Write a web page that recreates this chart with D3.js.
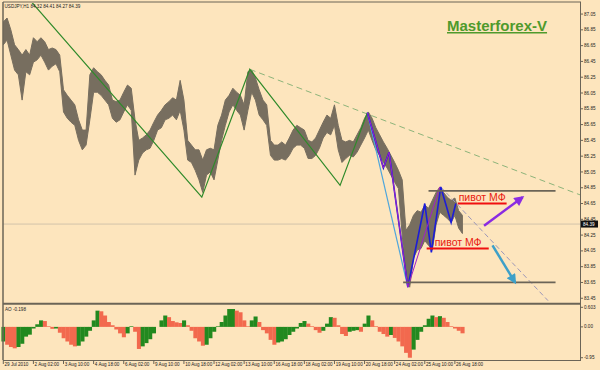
<!DOCTYPE html>
<html>
<head>
<meta charset="utf-8">
<script src="https://cdnjs.cloudflare.com/ajax/libs/d3/7.8.5/d3.min.js"></script>
<style>
  body { margin: 0; background: #fde5bd; }
  svg { display: block; font-family: "Liberation Sans", Arial, sans-serif; }
</style>
</head>
<body>
<svg id="chart" width="600" height="370"></svg>
<script>
// USDJPY H1, 29 Jul - 26 Aug 2010, one sample every 4 bars
const barStep = 4;
const totalBars = 613;

const timeLabels = ["29 Jul 2010", "2 Aug 02:00", "3 Aug 10:00", "4 Aug 18:00", "6 Aug 02:00",
   "9 Aug 10:00", "10 Aug 18:00", "12 Aug 02:00", "13 Aug 10:00", "16 Aug 18:00",
   "18 Aug 02:00", "19 Aug 10:00", "20 Aug 18:00", "24 Aug 02:00", "25 Aug 10:00", "26 Aug 18:00"];
const barsPerLabel = 32;

const priceTicks = [87.05, 86.85, 86.65, 86.45, 86.25, 86.05, 85.85, 85.65, 85.45, 85.25,
   85.05, 84.85, 84.65, 84.45, 84.25, 84.05, 83.85, 83.65, 83.45];
const aoTicks = [0.603, 0.00, -0.95];
const aoTickText = ["0.603", "0.00", "-0.95"];

const highs = [86.95, 87.00, 86.85, 86.66, 86.60, 86.53, 86.60, 86.53, 86.75, 86.70,
   86.75, 86.70, 86.60, 86.62, 86.60, 86.53, 86.09, 86.02, 85.96, 85.90,
   85.71, 85.58, 85.58, 86.28, 86.37, 86.32, 86.28, 86.21, 86.15, 85.96,
   85.94, 85.96, 86.06, 86.15, 86.11, 85.71, 85.45, 85.48, 85.52, 85.58,
   85.68, 85.77, 85.83, 85.90, 85.94, 85.99, 85.96, 86.21, 85.96, 85.45,
   85.39, 85.33, 85.33, 85.20, 85.33, 85.35, 85.33, 85.64, 85.77, 85.96,
   86.02, 86.11, 86.06, 86.02, 85.90, 86.32, 86.34, 86.24, 86.09, 85.96,
   85.90, 85.45, 85.39, 85.39, 85.43, 85.39, 85.48, 85.58, 85.64, 85.61,
   85.58, 85.45, 85.43, 85.48, 85.58, 85.68, 85.77, 85.73, 85.90, 85.64,
   85.45, 85.43, 85.45, 85.43, 85.52, 85.61, 85.73, 85.81, 85.73, 85.61,
   85.52, 85.43, 85.35, 85.26, 85.17, 85.07, 84.95, 84.31, 84.38, 84.50,
   84.56, 84.54, 84.63, 84.59, 84.69, 84.79, 84.86, 84.79, 84.73, 84.69,
   84.72, 84.56, 84.50];
const lows = [86.66, 86.72, 86.53, 86.34, 86.28, 85.96, 86.32, 86.28, 86.44, 86.47,
   86.53, 86.44, 86.34, 86.39, 86.42, 86.32, 85.81, 85.73, 85.68, 85.64,
   85.45, 85.33, 85.39, 85.71, 86.06, 86.06, 86.02, 85.96, 85.90, 85.73,
   85.68, 85.71, 85.81, 85.90, 85.83, 85.01, 85.20, 85.29, 85.33, 85.35,
   85.45, 85.58, 85.61, 85.71, 85.73, 85.77, 85.71, 85.83, 85.58, 85.20,
   85.17, 85.07, 84.95, 84.79, 85.01, 85.05, 84.95, 85.20, 85.45, 85.64,
   85.81, 85.90, 85.83, 85.77, 85.58, 85.83, 86.06, 85.96, 85.77, 85.71,
   85.64, 85.26, 85.20, 85.20, 85.22, 85.20, 85.26, 85.35, 85.39, 85.39,
   85.35, 85.22, 85.22, 85.26, 85.35, 85.48, 85.55, 85.52, 85.64, 85.33,
   85.17, 85.22, 85.26, 85.24, 85.30, 85.39, 85.48, 85.58, 85.45, 85.33,
   85.26, 85.17, 85.10, 85.01, 84.92, 84.84, 84.25, 83.74, 83.59, 83.96,
   84.06, 84.08, 84.18, 84.12, 84.06, 84.38, 84.54, 84.50, 84.46, 84.41,
   84.50, 84.34, 84.27];
const lastQuote = { open: 84.32, high: 84.41, low: 84.27, close: 84.39 };

// Awesome Oscillator
const aoValues = [-0.45, -0.55, -0.62, -0.66, -0.62, -0.52, -0.30, -0.24, -0.05, 0.08,
   0.20, 0.18, 0.02, -0.06, -0.05, -0.18, -0.35, -0.45, -0.55, -0.60,
   -0.58, -0.45, -0.30, -0.12, 0.20, 0.50, 0.48, 0.35, 0.15, 0.05,
   -0.08, -0.20, -0.32, -0.20, 0.02, -0.15, -0.68, -0.60, -0.50, -0.38,
   -0.20, 0.00, 0.20, 0.35, 0.30, 0.18, 0.14, 0.12, 0.20, 0.05,
   -0.12, -0.35, -0.45, -0.58, -0.55, -0.35, -0.15, 0.02, 0.15, 0.35,
   0.55, 0.55, 0.50, 0.45, 0.20, 0.02, 0.20, 0.32, 0.15, -0.10,
   -0.20, -0.40, -0.55, -0.48, -0.45, -0.38, -0.25, -0.15, -0.05, 0.12,
   0.18, 0.10, 0.02, -0.10, -0.18, -0.12, 0.10, 0.30, 0.28, 0.05,
   -0.22, -0.28, -0.15, -0.12, -0.10, -0.15, 0.10, 0.35, 0.20, 0.02,
   -0.15, -0.22, -0.30, -0.25, -0.34, -0.45, -0.60, -0.80, -0.95, -0.70,
   -0.40, -0.15, 0.05, 0.25, 0.35, 0.30, 0.33, 0.28, 0.15, 0.02,
   -0.05, -0.12, -0.198];

// analysis drawn on the chart: [bar, price]
const greenZigzag = [[28, 87.23], [211, 84.73], [262, 86.35], [358, 84.88], [387, 85.80]];
const greenTrend = [[262, 86.35], [613, 84.76]];
const lightBlueLine = [[387, 85.80], [430, 83.59]];
const purpleZigzag = [[387, 85.80], [404, 85.10], [410, 85.30], [430, 83.59], [464, 84.86]];
const blueZigzag = [[387, 85.80], [404, 85.10], [410, 85.30], [430, 83.59], [448, 84.65],
   [455, 84.03], [465, 84.86], [476, 84.41], [481, 84.65]];
const grayTrend = [[465, 84.86], [579, 83.42]];
const levels = [[452, 587, 84.81], [425, 587, 83.65]];        // [from, to, price]
const pivots = [[483, 535, 84.65], [450, 516, 84.08]];
const pivotText = "пивот МФ";
const upArrow = [[511, 84.37], [552, 84.73]];
const downArrow = [[520, 84.12], [544, 83.65]];

const svg = d3.select('#chart');
const frame = '#6b6457';

const x = d3.scaleLinear().domain([0, totalBars]).range([3.3, 580]);
const y = d3.scaleLinear().domain([83.39, 87.19]).range([303, 3]);
const yAo = d3.scaleLinear().domain([-1.02, 0.674]).range([360, 305]);

svg.append('rect').attr('width', 600).attr('height', 370).attr('fill', '#fde5bd');

svg.append('clipPath').attr('id', 'main-clip')
   .append('rect').attr('x', 3).attr('y', 3).attr('width', 577).attr('height', 300);

const main = svg.append('g').attr('clip-path', 'url(#main-clip)');

// current price line
main.append('line')
   .attr('x1', 3).attr('x2', 580)
   .attr('y1', y(lastQuote.close)).attr('y2', y(lastQuote.close))
   .attr('stroke', '#d2c4aa').attr('stroke-width', 1);

// price bars drawn as a hi/lo band
const area = d3.area()
   .x((d, i) => x(i * barStep))
   .y0((d, i) => y(lows[i]))
   .y1(d => y(d));
main.append('path').datum(highs)
   .attr('d', area)
   .attr('fill', '#776e5f')
   .attr('stroke', '#776e5f')
   .attr('stroke-width', 1);

const line = d3.line().x(d => x(d[0])).y(d => y(d[1]));

main.append('path').datum(greenTrend).attr('d', line)
   .attr('fill', 'none').attr('stroke', '#8db47a').attr('stroke-width', 1)
   .attr('stroke-dasharray', '6,4');
main.append('path').datum(grayTrend).attr('d', line)
   .attr('fill', 'none').attr('stroke', '#9c96b8').attr('stroke-width', 1)
   .attr('stroke-dasharray', '5,3');
main.append('path').datum(greenZigzag).attr('d', line)
   .attr('fill', 'none').attr('stroke', '#2f8a2a').attr('stroke-width', 1.2);
main.append('path').datum(lightBlueLine).attr('d', line)
   .attr('fill', 'none').attr('stroke', '#4fa6dc').attr('stroke-width', 1.2);
main.append('path').datum(blueZigzag).attr('d', line)
   .attr('fill', 'none').attr('stroke', '#1c1cd8').attr('stroke-width', 1.6);
main.append('path').datum(purpleZigzag).attr('d', line)
   .attr('fill', 'none').attr('stroke', '#a020c8').attr('stroke-width', 1);

main.selectAll('.level').data(levels).enter().append('line')
   .attr('x1', d => x(d[0])).attr('x2', d => x(d[1]))
   .attr('y1', d => y(d[2])).attr('y2', d => y(d[2]))
   .attr('stroke', frame).attr('stroke-width', 1.8);

main.selectAll('.pivot').data(pivots).enter().append('line')
   .attr('x1', d => x(d[0])).attr('x2', d => x(d[1]))
   .attr('y1', d => y(d[2])).attr('y2', d => y(d[2]))
   .attr('stroke', '#f01010').attr('stroke-width', 2);

main.selectAll('.pivot-label').data(pivots).enter().append('text')
   .attr('x', (d, i) => x(d[0]) + (i == 0 ? 1 : 8))
   .attr('y', d => y(d[2]) - 2.5)
   .attr('fill', '#e81a10')
   .style('font-size', '10.5px')
   .text(pivotText);

// arrows
const defs = svg.append('defs');
[['head-up', '#8a2be2'], ['head-down', '#3ea0c8']].forEach(function(m) {
   defs.append('marker')
      .attr('id', m[0])
      .attr('viewBox', '0 0 10 10')
      .attr('refX', 8).attr('refY', 5)
      .attr('markerWidth', 11).attr('markerHeight', 10)
      .attr('markerUnits', 'userSpaceOnUse')
      .attr('orient', 'auto')
      .append('path').attr('d', 'M0,0 L10,5 L0,10 Z').attr('fill', m[1]);
});
main.append('path').datum(upArrow).attr('d', line)
   .attr('stroke', '#8a2be2').attr('stroke-width', 2.5).attr('marker-end', 'url(#head-up)');
main.append('path').datum(downArrow).attr('d', line)
   .attr('stroke', '#3ea0c8').attr('stroke-width', 2.5).attr('marker-end', 'url(#head-down)');

// AO histogram
const aoWidth = x(barStep) - x(0);
svg.selectAll('.ao').data(aoValues).enter().append('rect')
   .attr('x', (d, i) => x(i * barStep) - aoWidth / 2)
   .attr('width', aoWidth + 0.3)
   .attr('y', d => Math.min(yAo(d), yAo(0)))
   .attr('height', d => Math.abs(yAo(d) - yAo(0)))
   .attr('fill', (d, i) => (i > 0 && d < aoValues[i - 1]) ? '#f2694e' : '#22891f');

// frames
svg.append('line').attr('x1', 3).attr('x2', 3).attr('y1', 2).attr('y2', 360)
   .attr('stroke', frame).attr('stroke-width', 1.5);
svg.append('line').attr('x1', 580.5).attr('x2', 580.5).attr('y1', 2).attr('y2', 360)
   .attr('stroke', frame).attr('stroke-width', 1);
svg.append('line').attr('x1', 3).attr('x2', 581).attr('y1', 2).attr('y2', 2)
   .attr('stroke', frame).attr('stroke-width', 1);
svg.append('line').attr('x1', 3).attr('x2', 581).attr('y1', 303.8).attr('y2', 303.8)
   .attr('stroke', frame).attr('stroke-width', 2);
svg.append('line').attr('x1', 3).attr('x2', 581).attr('y1', 360.5).attr('y2', 360.5)
   .attr('stroke', frame).attr('stroke-width', 1);

// right axes
const rightAxis = svg.append('g').style('font-size', '4.6px').attr('fill', '#222');
priceTicks.forEach(function(v) {
   rightAxis.append('line').attr('x1', 580).attr('x2', 583)
      .attr('y1', y(v)).attr('y2', y(v)).attr('stroke', frame);
   rightAxis.append('text').attr('x', 584).attr('y', y(v) + 1.6).text(v.toFixed(2));
});
aoTicks.forEach(function(v, i) {
   rightAxis.append('line').attr('x1', 580).attr('x2', 583)
      .attr('y1', yAo(v)).attr('y2', yAo(v)).attr('stroke', frame);
   rightAxis.append('text').attr('x', 584).attr('y', yAo(v) + 1.6).text(aoTickText[i]);
});
rightAxis.append('rect').attr('x', 581).attr('y', y(lastQuote.close) - 3.5)
   .attr('width', 17).attr('height', 7).attr('fill', '#111');
rightAxis.append('text').attr('x', 583).attr('y', y(lastQuote.close) + 1.6)
   .attr('fill', '#fff').text(lastQuote.close.toFixed(2));

// time axis
const timeAxis = svg.append('g').style('font-size', '4.6px').attr('fill', '#222');
timeLabels.forEach(function(t, i) {
   const px = x(i * barsPerLabel);
   timeAxis.append('line').attr('x1', px).attr('x2', px)
      .attr('y1', 360).attr('y2', 364).attr('stroke', frame);
   timeAxis.append('text').attr('x', px + 1.2).attr('y', 366).text(t);
});

// captions
svg.append('text').attr('x', 4.5).attr('y', 8).style('font-size', '4.6px').attr('fill', '#222')
   .text(`USDJPY,H1  ${lastQuote.open} ${lastQuote.high} ${lastQuote.low} ${lastQuote.close}`);
svg.append('text').attr('x', 5).attr('y', 311).style('font-size', '4.6px').attr('fill', '#222')
   .text('AO -0.198');

svg.append('text').attr('x', 447).attr('y', 31)
   .style('font-size', '15px').style('font-weight', 'bold')
   .style('text-decoration', 'underline')
   .attr('fill', '#4f9a2c')
   .text('Masterforex-V');
</script>
</body>
</html>
